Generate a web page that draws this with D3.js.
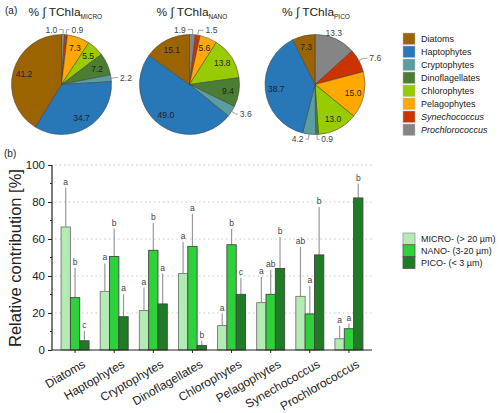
<!DOCTYPE html>
<html><head><meta charset="utf-8">
<script src="https://cdn.jsdelivr.net/npm/d3@7"></script>
<style>body{margin:0;background:#fff}svg{font-family:"Liberation Sans",Arial,sans-serif}</style>
</head><body><svg id="c" width="500" height="413"></svg>
<script>
// ---------- data ----------
const groups = ["Diatoms","Haptophytes","Cryptophytes","Dinoflagellates","Chlorophytes","Pelagophytes","Synechococcus","Prochlorococcus"];
// pie order (clockwise from 12 o'clock)
const pieOrder = ["Prochlorococcus","Synechococcus","Pelagophytes","Chlorophytes","Dinoflagellates","Cryptophytes","Haptophytes","Diatoms"];
const pieMicro = [1.0, 0.9, 7.3, 5.5, 7.2, 2.2, 34.7, 41.2];
const pieNano  = [1.9, 1.5, 5.6, 13.8, 9.4, 3.6, 49.0, 15.1];
const pico     = [13.3, 7.6, 15.0, 13.0, 0.9, 4.2, 38.7, 7.3];
const sizeClasses = ["MICRO- (> 20 µm)","NANO- (3-20 µm)","PICO- (< 3 µm)"];
const microVals = [66.5, 31.7, 21.3, 41.3, 13.2, 25.6, 29.0, 6.1];
const microErr  = [87.7, 46.8, 33.7, 58.4, 19.6, 39.5, 55.7, 13.0];
const nanoVals  = [28.3, 50.5, 53.9, 56.0, 56.9, 30.1, 19.5, 11.5];
const nanoErr   = [44.5, 65.6, 68.6, 73.7, 65.4, 43.4, 34.4, 14.2];
const picoVals  = [5.0, 18.0, 24.9, 2.5, 30.1, 44.1, 51.4, 82.2];
const picoErr   = [10.3, 30.1, 41.3, 4.9, 39.1, 61.1, 77.3, 90.0];
const microSig  = ["a","a","a","a","a","a","ab","a"];
const nanoSig   = ["b","b","b","a","b","ab","a","a"];
const picoSig   = ["c","a","a","b","c","b","b","b"];
const yTicks = [0,20,40,60,80,100];

// ---------- styles ----------
const groupColors = {Diatoms:"#9c6400",Haptophytes:"#2878b8",Cryptophytes:"#5b9ea0",Dinoflagellates:"#4b7d32",
  Chlorophytes:"#99cc00",Pelagophytes:"#ffa800",Synechococcus:"#cc3300",Prochlorococcus:"#858585"};
const sizeColors = ["#b2ecb2","#2fd13a","#1f7b24"];

const svg = d3.select("#c");

// ---------- pies ----------
const pies = [
  {vals:pieMicro, sub:"MICRO", cx:61.5, cy:84.5, outside:[{i:0,side:-1,leg:4},{i:1,side:1,leg:3},{i:5,side:1,leg:2}]},
  {vals:pieNano,  sub:"NANO",  cx:189.5,cy:84.5, outside:[{i:0,side:-1,leg:5},{i:1,side:1,leg:5},{i:5,side:1,leg:2}]},
  {vals:pico,     sub:"PICO",  cx:315,  cy:84.5, outside:[{i:0,side:0,leg:0},{i:1,side:1,leg:4},{i:4,side:1,leg:2},{i:5,side:-1,leg:3}]}
];
const R = 50;
const pieGen = d3.pie().sort(null).value(d=>d.v);
const arc = d3.arc().innerRadius(0).outerRadius(R);
pies.forEach(p=>{
  const data = pieGen(p.vals.map((v,i)=>({v, k:pieOrder[i]})));
  const g = svg.append("g").attr("transform",`translate(${p.cx},${p.cy})`);
  g.selectAll("path").data(data).join("path").attr("d",arc)
    .attr("fill",d=>groupColors[d.data.k]).attr("stroke","#3a3a3a").attr("stroke-width",0.5);
  const outIdx = new Map(p.outside.map(o=>[o.i,o]));
  data.forEach((d,i)=>{
    const a = (d.startAngle+d.endAngle)/2;
    const label = d.data.v.toFixed(1);
    if(!outIdx.has(i)){
      const rr = R*0.78;
      g.append("text").attr("x",rr*Math.sin(a)).attr("y",-rr*Math.cos(a)).attr("dy","0.35em")
        .attr("text-anchor","middle").attr("font-size",8.5).attr("fill","#222").text(label);
    } else {
      const o = outIdx.get(i);
      if(o.side===0){
        const rr=R+6;
        g.append("text").attr("x",rr*Math.sin(a)-4).attr("y",-rr*Math.cos(a)).attr("dy","0.35em")
          .attr("text-anchor","middle").attr("font-size",8.5).attr("fill","#444").text(label);
        return;
      }
      const p1=[(R-1)*Math.sin(a),-(R-1)*Math.cos(a)], p2=[(R+5)*Math.sin(a),-(R+5)*Math.cos(a)];
      const p3=[p2[0]+o.side*o.leg,p2[1]];
      g.append("path").attr("d",d3.line()([p1,p2,p3])).attr("fill","none").attr("stroke","#888").attr("stroke-width",0.8);
      g.append("text").attr("x",p3[0]+o.side*2).attr("y",p3[1]).attr("dy","0.35em")
        .attr("text-anchor",o.side>0?"start":"end").attr("font-size",8.5).attr("fill","#444").text(label);
    }
  });
  const t = svg.append("text").attr("x",p.cx-33).attr("y",16).attr("font-size",11.5).attr("fill","#222");
  t.append("tspan").attr("textLength",52).attr("lengthAdjust","spacingAndGlyphs").text("% ∫ TChla");
  t.append("tspan").attr("font-size",6.5).attr("dy",2.5).text(p.sub);
});
svg.append("text").attr("x",5).attr("y",14).attr("font-size",10).attr("fill","#222").text("(a)");

// pie legend
const lg = svg.append("g").attr("transform","translate(403,33)");
groups.forEach((k,i)=>{
  lg.append("rect").attr("x",0).attr("y",i*13).attr("width",12).attr("height",11.5)
    .attr("fill",groupColors[k]).attr("stroke","#bbb").attr("stroke-width",0.5);
  lg.append("text").attr("x",18).attr("y",i*13+6).attr("dy","0.35em").attr("font-size",9).attr("fill","#222")
    .attr("font-style",(k==="Synechococcus"||k==="Prochlorococcus")?"italic":"normal").text(k);
});

// ---------- bar chart ----------
svg.append("text").attr("x",4).attr("y",157).attr("font-size",10).attr("fill","#222").text("(b)");
const y = d3.scaleLinear().domain([0,100]).range([350,165]);
const x0 = d3.scaleBand().domain(groups).range([55.5,368.5]);
const x1 = d3.scaleBand().domain([0,1,2]).range([x0.bandwidth()/2-14, x0.bandwidth()/2+14]);
// grid
svg.append("g").selectAll("line").data(yTicks.filter(t=>t>0)).join("line")
  .attr("x1",55).attr("x2",372).attr("y1",d=>y(d)).attr("y2",d=>y(d))
  .attr("stroke","#c8c8c8").attr("stroke-width",1).attr("stroke-dasharray","1.5,3");
const series = [
  {vals:microVals, err:microErr, sig:microSig},
  {vals:nanoVals, err:nanoErr, sig:nanoSig},
  {vals:picoVals, err:picoErr, sig:picoSig}
];
series.forEach((s,si)=>{
  const g = svg.append("g");
  groups.forEach((k,gi)=>{
    const bx = x0(k)+x1(si), bw = x1.bandwidth(), cx = bx+bw/2;
    g.append("line").attr("x1",cx).attr("x2",cx).attr("y1",y(s.vals[gi])).attr("y2",y(s.err[gi]))
      .attr("stroke","#999").attr("stroke-width",1.2);
    g.append("rect").attr("x",bx).attr("y",y(s.vals[gi])).attr("width",bw).attr("height",y(0)-y(s.vals[gi]))
      .attr("fill",sizeColors[si]).attr("stroke",si===0?"#777":"#444").attr("stroke-width",0.9);
    g.append("text").attr("x",cx).attr("y",y(s.err[gi])-3).attr("text-anchor","middle")
      .attr("font-size",8.5).attr("fill","#444").text(s.sig[gi]);
  });
});
// y axis
const ya = svg.append("g").attr("transform","translate(52,0)")
  .call(d3.axisLeft(y).tickValues(yTicks).tickSize(4).tickPadding(3));
ya.select(".domain").attr("stroke","#222").attr("stroke-width",1.2).attr("d","M0,165V350");
ya.selectAll(".tick text").attr("font-size",11.5).attr("fill","#222").attr("font-family","Liberation Sans, Arial");
ya.selectAll(".tick line").attr("stroke","#222");
svg.append("g").selectAll("line").data([10,30,50,70,90]).join("line")
  .attr("x1",50).attr("x2",52).attr("y1",d=>y(d)).attr("y2",d=>y(d)).attr("stroke","#222");
// x axis
const xa = svg.append("g").attr("transform","translate(0,350)")
  .call(d3.axisBottom(x0).tickSize(3).tickSizeOuter(0));
xa.select(".domain").attr("stroke","#222").attr("stroke-width",1.2).attr("d","M52,0H372");
xa.selectAll(".tick line").attr("stroke","#222");
xa.selectAll(".tick text").attr("font-size",12).attr("fill","#222").attr("font-family","Liberation Sans, Arial")
  .attr("text-anchor","end").attr("transform","translate(4,4) rotate(-30)").attr("dy","0.7em");
svg.append("text").attr("transform","translate(21,258) rotate(-90)").attr("text-anchor","middle")
  .attr("font-size",16.5).attr("fill","#222").text("Relative contribution [%]");

// bar legend
const bl = svg.append("g").attr("transform","translate(403,233)");
sizeClasses.forEach((t,i)=>{
  bl.append("rect").attr("x",0).attr("y",i*11.8).attr("width",12).attr("height",11.8)
    .attr("fill",sizeColors[i]).attr("stroke",i===0?"#999":"#555").attr("stroke-width",0.8);
  bl.append("text").attr("x",18).attr("y",i*11.8+6).attr("dy","0.35em").attr("font-size",9).attr("fill","#222").text(t);
});
</script></body></html>
